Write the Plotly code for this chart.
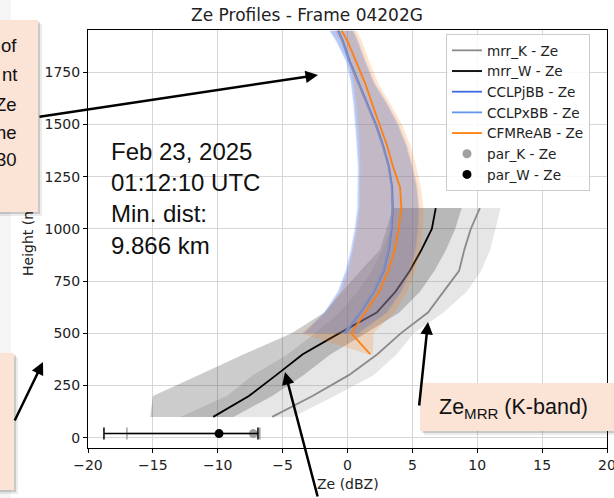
import plotly.graph_objects as go

# ---------------- data ----------------
mrr_h = [100, 200, 300, 400, 500, 600, 700, 800, 900, 1000, 1100]
mrr_K = [-5.8, -2.7, 0.1, 2.3, 4.1, 6.2, 7.4, 8.6, 9.0, 9.5, 10.2]
mrr_K_low = [-12.9, -9.3, -7.3, -4.6, -2.5, -0.6, 0.8, 1.9, 2.7, 3.3, 3.6]
mrr_K_high = [-4.2, -1.0, 2.0, 3.8, 5.1, 7.4, 9.2, 10.3, 11.0, 11.4, 11.8]
mrr_W = [-10.35, -7.6, -5.5, -3.45, -0.65, 2.25, 3.7, 4.8, 5.7, 6.5, 6.8]
mrr_W_low = [-15.2, -15.0, -11.5, -8.0, -4.3, -1.8, -0.4, 1.0, 2.5, 3.0, 3.5]
mrr_W_high = [-8.8, -5.8, -3.4, -1.3, 1.4, 4.0, 5.6, 6.7, 7.6, 8.3, 8.8]

sat_h = [500, 600, 700, 800, 900, 1000, 1100, 1200, 1300, 1400, 1500, 1600, 1700, 1800, 1900, 1950]
cclpj = [-0.2, 1.0, 2.05, 2.8, 3.2, 3.4, 3.5, 3.45, 3.2, 2.75, 2.2, 1.55, 0.85, 0.2, -0.35, -0.7]
cclpj_low = [-3.4, -1.8, -0.75, -0.15, 0.25, 0.55, 0.75, 0.8, 0.8, 0.7, 0.6, 0.45, 0.25, -0.1, -0.9, -1.4]
cclpj_high = [0.8, 3.0, 4.1, 4.8, 5.2, 5.4, 5.45, 5.3, 4.95, 4.5, 3.85, 3.0, 2.0, 1.35, 0.75, 0.4]
cclpx = [-0.25, 0.95, 2.0, 2.75, 3.15, 3.35, 3.45, 3.4, 3.15, 2.7, 2.15, 1.5, 0.8, 0.15, -0.4, -0.75]
cclpx_low = [-3.3, -1.7, -0.65, -0.05, 0.35, 0.65, 0.85, 0.9, 0.9, 0.8, 0.7, 0.55, 0.35, 0.0, -0.8, -1.3]
cclpx_high = [0.9, 3.1, 4.2, 4.9, 5.3, 5.5, 5.55, 5.4, 5.05, 4.6, 3.95, 3.1, 2.1, 1.45, 0.85, 0.5]

cfm_h = [400, 500, 600, 700, 800, 900, 1000, 1100, 1200, 1300, 1400, 1500, 1600, 1700, 1800, 1900, 1950]
cfm = [1.75, 0.3, 1.35, 2.45, 3.15, 3.65, 3.95, 4.15, 4.05, 3.5, 3.05, 2.45, 1.9, 1.35, 0.7, 0.0, -0.45]
cfm_low = [1.6, -3.6, -1.6, -0.5, 0.1, 0.45, 0.75, 0.95, 1.0, 1.0, 0.95, 0.85, 0.7, 0.5, 0.15, -0.5, -1.0]
cfm_high = [1.95, 2.0, 3.6, 4.6, 5.2, 5.6, 5.8, 5.85, 5.65, 5.3, 4.85, 4.2, 3.3, 2.35, 1.7, 1.1, 0.7]

par_h = [20]
par_K = [-7.26]
par_K_err_minus = [9.74]
par_K_err_plus = [0.5]
par_W = [-9.9]
par_W_err_minus = [8.87]
par_W_err_plus = [3.0]

x_ticks = [-20, -15, -10, -5, 0, 5, 10, 15, 20]
y_ticks = [0, 250, 500, 750, 1000, 1250, 1500, 1750]

title_text = "Ze Profiles - Frame 04202G"
info_lines = ["Feb 23, 2025", "01:12:10 UTC", "Min. dist:", "9.866 km"]
left_box_lines = ["of", "nt", "Ze", "he", "30"]

# ---------------- layout geometry ----------------
W, H = 614, 498
L, R, T, B = 88, 7, 30, 50
PW, PH = W - L - R, H - T - B


def px(X):
    return (X - L) / PW


def py(Y):
    return (H - B - Y) / PH


fig = go.Figure()


def band(h, lo, hi, color):
    fig.add_trace(go.Scatter(x=list(lo) + list(hi)[::-1], y=list(h) + list(h)[::-1],
                             fill="toself", fillcolor=color, mode="lines",
                             line=dict(width=0), hoverinfo="skip", showlegend=False))


def line(h, x, color, name, width=1.8):
    fig.add_trace(go.Scatter(x=x, y=h, mode="lines", name=name,
                             line=dict(color=color, width=width)))


band(mrr_h, mrr_K_low, mrr_K_high, "rgba(128,128,128,0.2)")
line(mrr_h, mrr_K, "#8a8a8a", "mrr_K - Ze")
band(mrr_h, mrr_W_low, mrr_W_high, "rgba(0,0,0,0.2)")
line(mrr_h, mrr_W, "black", "mrr_W - Ze")
band(sat_h, cclpj_low, cclpj_high, "rgba(65,105,225,0.25)")
line(sat_h, cclpj, "#4169E1", "CCLPjBB - Ze")
band(sat_h, cclpx_low, cclpx_high, "rgba(100,149,237,0.25)")
line(sat_h, cclpx, "#6495ED", "CCLPxBB - Ze")
band(cfm_h, cfm_low, cfm_high, "rgba(255,127,14,0.2)")
line(cfm_h, cfm, "#ff7f0e", "CFMReAB - Ze")

fig.add_trace(go.Scatter(x=par_K, y=par_h, mode="markers", name="par_K - Ze",
                         marker=dict(color="#a0a0a0", size=9),
                         error_x=dict(type="data", symmetric=False, array=par_K_err_plus,
                                      arrayminus=par_K_err_minus, color="#a0a0a0",
                                      thickness=1.5, width=6)))
fig.add_trace(go.Scatter(x=par_W, y=par_h, mode="markers", name="par_W - Ze",
                         marker=dict(color="black", size=9),
                         error_x=dict(type="data", symmetric=False, array=par_W_err_plus,
                                      arrayminus=par_W_err_minus, color="black",
                                      thickness=1.5, width=6)))

axis_font = dict(family="DejaVu Sans", size=14, color="#222")
common_axis = dict(showgrid=True, gridcolor="#d6d6d6", gridwidth=1, zeroline=False,
                   showline=True, linecolor="black", linewidth=1, mirror=True,
                   ticks="outside", ticklen=4, tickcolor="black", tickfont=axis_font,
                   ticklabeloverflow="allow", automargin=False)

fig.update_layout(
    width=W, height=H,
    margin=dict(l=L, r=R, t=T, b=B, autoexpand=False),
    paper_bgcolor="white", plot_bgcolor="white",
    title=dict(text=title_text, x=px(347.5), xanchor="center", y=1 - 15 / H, yanchor="middle",
               font=dict(family="DejaVu Sans", size=17, color="#222")),
    xaxis=dict(range=[-20, 20], tickvals=x_ticks, **common_axis),
    yaxis=dict(range=[-49, 1953], tickvals=y_ticks, **common_axis),
    legend=dict(x=px(446), y=py(34), xanchor="left", yanchor="top",
                bgcolor="rgba(255,255,255,0.85)", bordercolor="#cccccc", borderwidth=1,
                font=dict(family="DejaVu Sans", size=13.6, color="#222")),
    showlegend=True,
)

# light slide background strip at far left
fig.add_shape(type="rect", xref="paper", yref="paper", x0=px(-5), x1=px(11), y0=py(H + 5), y1=py(-5),
              fillcolor="#f5f5f5", line=dict(width=0), layer="below")

ann = []
# axis titles as annotations (so the overlay boxes can cover them)
ann.append(dict(text="Height (m)", x=px(28), y=py(239), xref="paper", yref="paper", textangle=-90,
                xanchor="center", yanchor="middle", showarrow=False, font=axis_font))
ann.append(dict(text="Ze (dBZ)", x=px(347.5), y=py(484), xref="paper", yref="paper",
                xanchor="center", yanchor="middle", showarrow=False, font=axis_font))

# info text inside plot
ann.append(dict(text="<br>".join(info_lines), x=px(109), y=py(199), xref="paper", yref="paper",
                xanchor="left", yanchor="middle", align="left", showarrow=False,
                font=dict(family="Liberation Sans", size=24, color="#111")))

PEACH = "#FBE3D6"


def box(x0, y0, x1, y1, color):
    return dict(text=" ", x=px(x0), y=py(y0), xref="paper", yref="paper", xanchor="left",
                yanchor="top", showarrow=False, width=x1 - x0, height=y1 - y0, bgcolor=color,
                borderpad=0, borderwidth=0, font=dict(size=2))


def shadowed_box(x0, y0, x1, y1):
    out = []
    out.append(box(x0 + 4, y0 + 4, x1 + 4, y1 + 4, "rgba(0,0,0,0.08)"))
    out.append(box(x0 + 2, y0 + 2, x1 + 2, y1 + 2, "rgba(0,0,0,0.14)"))
    out.append(box(x0, y0, x1, y1, PEACH))
    return out


ann += shadowed_box(-20, 20, 38, 212)
ann += shadowed_box(-20, 353, 14, 490)
ann += shadowed_box(420, 383, 640, 431)

for txt, yc in zip(left_box_lines, [45, 74, 104, 132, 160]):
    ann.append(dict(text=txt, x=px(18.5), y=py(yc), xref="paper", yref="paper", xanchor="right",
                    yanchor="middle", showarrow=False,
                    font=dict(family="Liberation Sans", size=18.5, color="#111")))

ann.append(dict(text="Ze<sub>MRR</sub> (K-band)", x=px(437), y=py(408), xref="paper", yref="paper",
                xanchor="left", yanchor="middle", showarrow=False, align="left",
                font=dict(family="Liberation Sans", size=21.5, color="#111")))


def arrow(tail, tip):
    return dict(text="", x=px(tip[0]), y=py(tip[1]), xref="paper", yref="paper",
                ax=tail[0] - tip[0], ay=tail[1] - tip[1], showarrow=True,
                arrowhead=2, arrowsize=1, arrowwidth=2.5, arrowcolor="black",
                standoff=0, startstandoff=0)


ann.append(arrow((38, 117), (318, 75)))
ann.append(arrow((14, 422), (43, 362)))
ann.append(arrow((419, 407), (428, 322)))
ann.append(arrow((318, 505), (285, 372)))

fig.update_layout(annotations=ann)

fig.write_html("out.html")
